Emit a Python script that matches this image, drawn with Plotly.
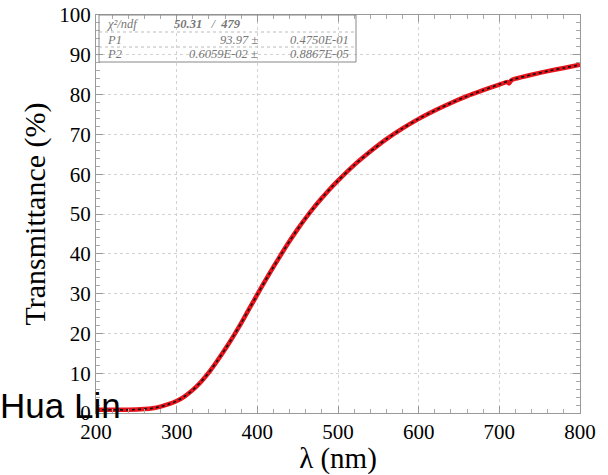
import plotly.graph_objects as go

# ---- data ----
wavelength = [200, 220, 240, 260, 270, 280, 290, 300, 310, 320, 330, 340, 350, 360, 370,
              380, 390, 400, 410, 420, 430, 440, 450, 460, 470, 480, 490, 500, 520, 540,
              560, 580, 600, 620, 640, 660, 680, 700, 710, 712, 715, 720, 740, 760, 780, 800]
measured = [0.8, 0.8, 0.8, 1.0, 1.2, 1.6, 2.2, 3.0, 4.2, 5.8, 7.8, 10.2, 13.0, 16.0, 19.2,
            22.6, 26.2, 29.8, 33.3, 36.7, 40.0, 43.2, 46.2, 49.0, 51.6, 54.0, 56.3, 58.4, 62.3, 65.7,
            68.8, 71.5, 73.9, 76.0, 77.9, 79.6, 81.1, 82.5, 83.2, 82.8, 83.6, 84.0, 85.0, 85.9, 86.7, 87.5]
fit_wavelength = [200, 220, 240, 260, 270, 280, 290, 300, 310, 320, 330, 340, 350, 360, 370,
                  380, 390, 400, 410, 420, 430, 440, 450, 460, 470, 480, 490, 500, 520, 540,
                  560, 580, 600, 620, 640, 660, 680, 700, 720, 740, 760, 780, 800]
fit_values = [0.8, 0.8, 0.8, 1.0, 1.2, 1.6, 2.2, 3.0, 4.2, 5.8, 7.8, 10.2, 13.0, 16.0, 19.2,
              22.6, 26.2, 29.8, 33.3, 36.7, 40.0, 43.2, 46.2, 49.0, 51.6, 54.0, 56.3, 58.4, 62.3, 65.7,
              68.8, 71.5, 73.9, 76.0, 77.9, 79.6, 81.1, 82.6, 84.0, 85.0, 85.9, 86.7, 87.5]

stats_rows = [
    ["χ²/ndf", "50.31   /  479", ""],
    ["P1", "93.97 ±", "0.4750E-01"],
    ["P2", "0.6059E-02 ±", "0.8867E-05"],
]

# ---- layout geometry (pixels) ----
W, H = 608, 475
L, R, T, B = 96, 28, 15, 62
PW, PH = W - L - R, H - T - B


def px(x):
    return (x - L) / PW


def py(y):
    return 1 - (y - T) / PH


fig = go.Figure()
fig.add_trace(go.Scatter(x=wavelength, y=measured, mode="lines",
                         line=dict(color="#e8141b", width=4.5, shape="spline", smoothing=0.6),
                         showlegend=False))
fig.add_trace(go.Scatter(x=fit_wavelength, y=fit_values, mode="lines",
                         line=dict(color="#111111", width=1.6, dash="dot", shape="spline", smoothing=0.6),
                         showlegend=False))

axis_common = dict(showline=True, linecolor="#999999", linewidth=1, mirror="allticks",
                   ticks="inside", ticklen=7, tickcolor="#999999",
                   showgrid=True, gridcolor="#d2d2d2", griddash="dot", gridwidth=1,
                   zeroline=False, automargin=False,
                   tickfont=dict(family="Liberation Serif", size=21, color="black"))

fig.update_xaxes(range=[200, 800], dtick=100, tick0=200,
                 minor=dict(ticks="inside", dtick=20, ticklen=4, tickcolor="#aaaaaa", showgrid=False),
                 title=dict(text="λ (nm)", font=dict(family="Liberation Serif", size=29, color="black"),
                            standoff=0),
                 **axis_common)
fig.update_yaxes(range=[0, 100], dtick=10,
                 minor=dict(ticks="inside", dtick=2, ticklen=4, tickcolor="#aaaaaa", showgrid=False),
                 title=dict(text="Transmittance (%)",
                            font=dict(family="Liberation Serif", size=30, color="black"), standoff=4),
                 **axis_common)

# stats box
bx0, bx1, by0, by1 = 99, 356, 15, 62
shapes = [dict(type="rect", xref="paper", yref="paper", x0=px(bx0), x1=px(bx1),
               y0=py(by1), y1=py(by0), line=dict(color="#888888", width=1),
               fillcolor="rgba(255,255,255,0)")]
for ysep in [32, 47]:
    shapes.append(dict(type="line", xref="paper", yref="paper", x0=px(bx0), x1=px(bx1),
                       y0=py(ysep), y1=py(ysep), line=dict(color="#bbbbbb", width=1, dash="dot")))
fig.update_layout(shapes=shapes)

row_y = [24, 39.5, 54]
sfont = dict(family="Liberation Serif", size=12.5, color="#777777")
for (label, mid, right), yy in zip(stats_rows, row_y):
    fig.add_annotation(x=px(105), y=py(yy), xref="paper", yref="paper", text=f"<i>{label}</i>",
                       showarrow=False, xanchor="left", yanchor="middle", font=sfont)
    if label.startswith("χ"):
        fig.add_annotation(x=px(172), y=py(yy), xref="paper", yref="paper",
                           text="<i><b>50.31</b>   /  <b>479</b></i>",
                           showarrow=False, xanchor="left", yanchor="middle", font=sfont)
    else:
        fig.add_annotation(x=px(260), y=py(yy), xref="paper", yref="paper", text=f"<i>{mid}</i>",
                           showarrow=False, xanchor="right", yanchor="middle", font=sfont)
        fig.add_annotation(x=px(351), y=py(yy), xref="paper", yref="paper", text=f"<i>{right}</i>",
                           showarrow=False, xanchor="right", yanchor="middle", font=sfont)

fig.add_annotation(x=px(-2), y=py(405), xref="paper", yref="paper", text="Hua Lin",
                   showarrow=False, xanchor="left", yanchor="middle",
                   font=dict(family="Liberation Sans", size=35, color="black"))

fig.update_layout(width=W, height=H, margin=dict(l=L, r=R, t=T, b=B),
                  paper_bgcolor="white", plot_bgcolor="white")

fig.write_html("out.html", config={"displayModeBar": False},
               post_script="document.body.style.margin='0';document.body.style.overflow='hidden';")
